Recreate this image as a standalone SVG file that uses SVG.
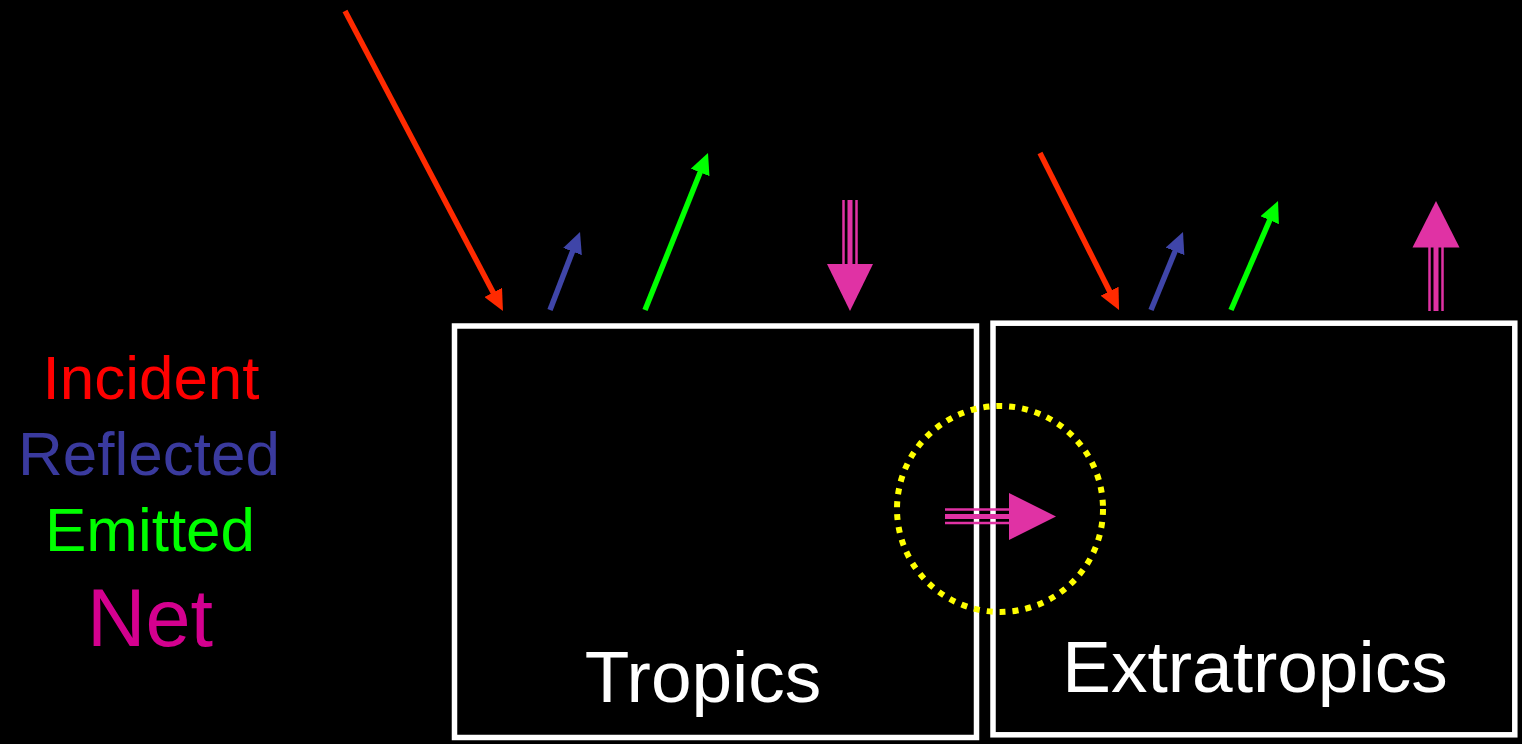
<svg xmlns="http://www.w3.org/2000/svg" width="1522" height="744" viewBox="0 0 1522 744">
<style>
text{font-family:"Liberation Sans",Arial,sans-serif;}
.box{fill:none;stroke:#fff;stroke-width:5.5;}
.lbl{fill:#fff;font-size:73px;text-anchor:middle;}
.leg{text-anchor:middle;font-size:62px;}
.a{stroke-width:5.5;fill:none;}
.net{fill:#E032A4;}
.nl{stroke:#E032A4;fill:none;}
</style>
<defs>
<marker id="mr" viewBox="0 0 21 20" refX="2" refY="10" markerWidth="21" markerHeight="20" markerUnits="userSpaceOnUse" orient="auto"><path d="M0,0 L21,10 L0,20 z" fill="#FF2A00"/></marker>
<marker id="mb" viewBox="0 0 21 20" refX="2" refY="10" markerWidth="21" markerHeight="20" markerUnits="userSpaceOnUse" orient="auto"><path d="M0,0 L21,10 L0,20 z" fill="#3F45A8"/></marker>
<marker id="mg" viewBox="0 0 21 20" refX="2" refY="10" markerWidth="21" markerHeight="20" markerUnits="userSpaceOnUse" orient="auto"><path d="M0,0 L21,10 L0,20 z" fill="#00FF00"/></marker>
</defs>
<rect x="0" y="0" width="1522" height="744" fill="#000"/>

<g id="legend">
<text class="leg" x="151" y="399" fill="#FF0000">Incident</text>
<text class="leg" x="149" y="475" fill="#3A3A9E">Reflected</text>
<text class="leg" x="150" y="551" fill="#00FF00">Emitted</text>
<text class="leg" x="150" y="646" fill="#D4008F" style="font-size:81px">Net</text>
</g>

<g id="tropics">
<rect class="box" x="454.5" y="326" width="522" height="411.5"/>
<text class="lbl" x="703" y="702">Tropics</text>
</g>

<g id="extratropics">
<rect class="box" x="993" y="323.2" width="521.8" height="411.6"/>
<text class="lbl" x="1255" y="692">Extratropics</text>
</g>

<g id="connectors">
<line class="a" stroke="#FF2A00" x1="345" y1="11" x2="494.1" y2="294.2" marker-end="url(#mr)"/>
<line class="a" stroke="#3F45A8" x1="550" y1="310" x2="573.2" y2="249.7" marker-end="url(#mb)"/>
<line class="a" stroke="#00FF00" x1="645" y1="310" x2="700.9" y2="170.6" marker-end="url(#mg)"/>
<line class="a" stroke="#FF2A00" x1="1040" y1="153" x2="1110.5" y2="293" marker-end="url(#mr)"/>
<line class="a" stroke="#3F45A8" x1="1151" y1="310" x2="1175.8" y2="249.5" marker-end="url(#mb)"/>
<line class="a" stroke="#00FF00" x1="1231" y1="310" x2="1270.5" y2="218.4" marker-end="url(#mg)"/>

<g id="net-down">
<line class="nl" x1="843.5" y1="200" x2="843.5" y2="265" stroke-width="2.5"/>
<line class="nl" x1="850" y1="200" x2="850" y2="265" stroke-width="5"/>
<line class="nl" x1="856.5" y1="200" x2="856.5" y2="265" stroke-width="2.5"/>
<polygon class="net" points="827,264 873,264 850,311"/>
</g>
<g id="net-up">
<line class="nl" x1="1429.5" y1="246" x2="1429.5" y2="311" stroke-width="2.5"/>
<line class="nl" x1="1436" y1="246" x2="1436" y2="311" stroke-width="5"/>
<line class="nl" x1="1442.5" y1="246" x2="1442.5" y2="311" stroke-width="2.5"/>
<polygon class="net" points="1412.5,247.5 1459.5,247.5 1436,201"/>
</g>
<g id="net-right">
<line class="nl" x1="945" y1="509.5" x2="1010" y2="509.5" stroke-width="2.5"/>
<line class="nl" x1="945" y1="516.5" x2="1010" y2="516.5" stroke-width="5"/>
<line class="nl" x1="945" y1="523" x2="1010" y2="523" stroke-width="2.5"/>
<polygon class="net" points="1009,493 1009,540 1056,516.5"/>
</g>
</g>

<g id="highlight">
<circle cx="1000" cy="509" r="103" fill="none" stroke="#FFFF00" stroke-width="6" stroke-dasharray="6 7"/>
</g>
</svg>
